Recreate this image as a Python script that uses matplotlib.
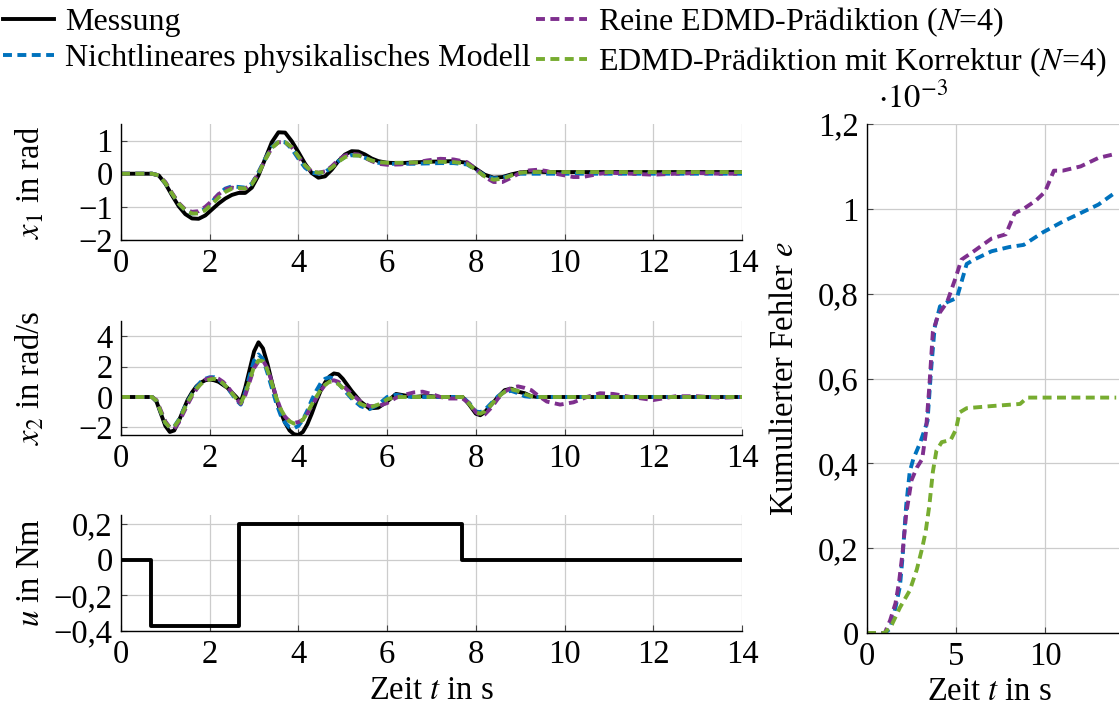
import matplotlib
matplotlib.use("Agg")
import matplotlib.pyplot as plt
from matplotlib.ticker import FuncFormatter

# --- data ---
t1 = [0, 0.7, 0.85, 1.0, 1.15, 1.3, 1.45, 1.6, 1.75, 1.9,
      2.05, 2.2, 2.35, 2.5, 2.65, 2.8, 2.95, 3.1, 3.25, 3.4,
      3.55, 3.7, 3.85, 4.0, 4.15, 4.3, 4.45, 4.6, 4.75, 4.9,
      5.05, 5.2, 5.35, 5.5, 5.65, 5.8, 6.0, 6.3, 6.6, 6.9,
      7.2, 7.5, 7.8, 8.0, 8.2, 8.4, 8.6, 8.8, 9.0, 9.2,
      9.4, 9.6, 9.8, 10.0, 10.2, 10.4, 10.6, 10.8, 11.0, 11.5,
      12.0, 12.5, 13.0, 13.5, 14.0]

x1_mess = [0, 0, -0.05, -0.3, -0.65, -0.98, -1.22, -1.35, -1.36, -1.26,
           -1.08, -0.9, -0.75, -0.64, -0.58, -0.58, -0.42, -0.05, 0.45, 0.95,
           1.25, 1.24, 0.98, 0.65, 0.3, 0.02, -0.12, -0.08, 0.12, 0.38,
           0.58, 0.68, 0.67, 0.58, 0.46, 0.38, 0.33, 0.32, 0.34, 0.36,
           0.37, 0.38, 0.33, 0.15, -0.03, -0.12, -0.1, -0.02, 0.04, 0.06,
           0.06, 0.05, 0.05, 0.05, 0.05, 0.05, 0.05, 0.05, 0.05, 0.05,
           0.05, 0.05, 0.05, 0.05, 0.05]
x1_phys = [0, 0, -0.05, -0.28, -0.6, -0.9, -1.1, -1.2, -1.18, -1.05,
           -0.85, -0.62, -0.45, -0.38, -0.4, -0.42, -0.3, 0.05, 0.45, 0.8,
           0.97, 0.95, 0.75, 0.45, 0.18, 0.03, 0.0, 0.05, 0.2, 0.38,
           0.5, 0.56, 0.55, 0.48, 0.4, 0.33, 0.3, 0.3, 0.3, 0.31,
           0.32, 0.32, 0.28, 0.12, -0.05, -0.14, -0.12, -0.05, 0.0, 0.0,
           0, 0, 0, 0, 0, 0, 0, 0, 0, 0,
           0, 0, 0, 0, 0]
x1_edmd = [0, 0, -0.05, -0.25, -0.58, -0.88, -1.08, -1.15, -1.13, -1.0,
           -0.82, -0.62, -0.47, -0.42, -0.45, -0.45, -0.3, 0.02, 0.42, 0.78,
           0.95, 0.95, 0.8, 0.52, 0.25, 0.07, 0.03, 0.07, 0.22, 0.42,
           0.55, 0.6, 0.58, 0.48, 0.38, 0.3, 0.27, 0.28, 0.33, 0.4,
           0.45, 0.43, 0.35, 0.15, -0.1, -0.25, -0.25, -0.12, 0.03, 0.1,
           0.12, 0.08, 0.0, -0.05, -0.1, -0.1, -0.05, 0.0, 0.03, 0.0,
           -0.03, 0.0, 0.02, 0.0, 0.0]
x1_korr = [0, 0, -0.05, -0.28, -0.6, -0.9, -1.1, -1.2, -1.2, -1.1,
           -0.92, -0.72, -0.55, -0.45, -0.43, -0.45, -0.32, 0.0, 0.42, 0.78,
           0.95, 0.95, 0.8, 0.52, 0.25, 0.07, 0.03, 0.05, 0.18, 0.36,
           0.5, 0.55, 0.55, 0.48, 0.4, 0.35, 0.33, 0.33, 0.34, 0.35,
           0.36, 0.35, 0.3, 0.12, -0.08, -0.18, -0.15, -0.05, 0.03, 0.05,
           0.05, 0.05, 0.05, 0.05, 0.05, 0.05, 0.05, 0.05, 0.05, 0.05,
           0.05, 0.05, 0.05, 0.05, 0.05]

t2 = [0, 0.7, 0.8, 0.9, 1.0, 1.1, 1.2, 1.3, 1.4, 1.5,
      1.6, 1.7, 1.8, 1.9, 2.0, 2.1, 2.2, 2.3, 2.4, 2.5,
      2.6, 2.7, 2.8, 2.9, 3.0, 3.1, 3.2, 3.3, 3.4, 3.5,
      3.6, 3.7, 3.8, 3.9, 4.0, 4.1, 4.2, 4.3, 4.4, 4.5,
      4.6, 4.7, 4.8, 4.9, 5.0, 5.2, 5.4, 5.6, 5.8, 6.0,
      6.2, 6.4, 6.6, 6.8, 7.0, 7.2, 7.4, 7.7, 7.85, 8.0,
      8.1, 8.2, 8.35, 8.5, 8.65, 8.8, 8.95, 9.1, 9.25, 9.4,
      9.6, 9.9, 10.2, 10.5, 10.8, 11.1, 11.5, 12.0, 12.5, 13.0,
      13.5, 14.0]

x2_mess = [0, 0, -0.3, -1.1, -1.9, -2.3, -2.2, -1.6, -0.9, -0.2,
           0.3, 0.7, 0.95, 1.1, 1.15, 1.1, 1.0, 0.8, 0.6, 0.3,
           0.0, -0.35, 0.6, 1.8, 3.0, 3.6, 3.2, 2.2, 1.0, -0.1,
           -1.0, -1.7, -2.2, -2.45, -2.5, -2.3, -1.8, -1.1, -0.3, 0.4,
           0.95, 1.35, 1.55, 1.5, 1.2, 0.4, -0.3, -0.75, -0.7, -0.3,
           0.2, 0.1, 0.0, 0.05, 0.05, 0.0, 0.0, 0.0, -0.5, -1.1,
           -1.2, -1.0, -0.5, 0.0, 0.45, 0.55, 0.35, 0.25, 0.05, 0.0,
           0, 0, 0, 0, 0, 0, 0, 0, 0, 0,
           0, 0]
x2_phys = [0, 0, -0.25, -1.0, -1.7, -2.0, -1.95, -1.5, -0.9, -0.3,
           0.2, 0.65, 1.0, 1.2, 1.3, 1.3, 1.15, 0.9, 0.6, 0.2,
           -0.2, -0.5, 0.3, 1.4, 2.4, 2.8, 2.5, 1.6, 0.6, -0.4,
           -1.2, -1.7, -2.0, -2.05, -1.9, -1.5, -0.9, -0.2, 0.4, 0.9,
           1.2, 1.3, 1.2, 0.9, 0.55, -0.1, -0.6, -0.8, -0.5, 0.0,
           0.15, 0.05, 0.0, 0.0, 0.0, 0.0, 0.0, 0.0, -0.4, -0.95,
           -1.0, -0.85, -0.4, 0.05, 0.35, 0.4, 0.25, 0.05, 0.0, 0.0,
           0, 0, 0, 0, 0, 0, 0, 0, 0, 0,
           0, 0]
x2_edmd = [0, 0, -0.2, -0.9, -1.6, -2.0, -2.1, -1.7, -1.1, -0.5,
           0.05, 0.5, 0.9, 1.15, 1.25, 1.3, 1.2, 1.0, 0.7, 0.3,
           -0.1, -0.45, 0.1, 1.0, 1.9, 2.35, 2.4, 1.9, 1.0, 0.0,
           -0.8, -1.3, -1.6, -1.7, -1.65, -1.5, -1.1, -0.6, -0.1, 0.4,
           0.8, 1.05, 1.1, 1.0, 0.75, 0.2, -0.3, -0.6, -0.6, -0.4,
           -0.05, 0.15, 0.3, 0.35, 0.2, 0.0, -0.1, -0.1, -0.4, -1.0,
           -1.2, -1.15, -0.7, -0.1, 0.35, 0.6, 0.7, 0.6, 0.45, 0.1,
           -0.3, -0.5, -0.35, 0.0, 0.25, 0.2, 0.0, -0.2, 0.05, 0.05,
           -0.05, 0.0]
x2_korr = [0, 0, -0.25, -1.0, -1.7, -2.0, -1.95, -1.55, -0.95, -0.35,
           0.15, 0.55, 0.85, 1.05, 1.15, 1.2, 1.1, 0.9, 0.6, 0.25,
           -0.1, -0.4, 0.2, 1.1, 2.0, 2.4, 2.35, 1.8, 0.9, -0.05,
           -0.8, -1.3, -1.6, -1.75, -1.7, -1.5, -1.05, -0.5, 0.0, 0.45,
           0.8, 1.0, 1.0, 0.85, 0.6, 0.0, -0.45, -0.7, -0.5, -0.15,
           0.0, 0.0, 0.0, 0.0, 0.0, 0.0, 0.0, 0.0, -0.45, -1.0,
           -1.1, -0.95, -0.5, 0.0, 0.35, 0.5, 0.4, 0.2, 0.05, 0.0,
           0, 0, 0, 0, 0, 0, 0, 0, 0, 0,
           0, 0]

t_u = [0, 0.68, 2.66, 7.69, 14]
u_val = [0, -0.37, 0.2, 0, 0]

# cumulative error, in units of 1e-3
t_e_phys = [0, 1.0, 1.3, 1.6, 1.85, 2.0, 2.2, 2.4, 2.6, 3.0, 3.4, 3.6, 3.8,
            4.1, 4.5, 5.05, 5.6, 6.0, 7.0, 8.0, 8.8, 9.9, 11.0, 12.0, 13.0, 14.0]
e_phys = [0, 0, 0.01, 0.06, 0.11, 0.18, 0.30, 0.38, 0.41, 0.45, 0.50, 0.62, 0.72,
          0.77, 0.78, 0.79, 0.87, 0.88, 0.9, 0.91, 0.915, 0.945, 0.97, 0.99, 1.01, 1.04]
t_e_edmd = [0, 1.0, 1.3, 1.6, 1.8, 2.0, 2.2, 2.5, 2.8, 3.1, 3.3, 3.5, 3.7, 4.0,
            4.5, 5.0, 5.3, 6.0, 7.0, 7.8, 8.3, 8.8, 9.5, 10.0, 10.5, 11.0, 12.0,
            13.0, 14.0]
e_edmd = [0, 0, 0.03, 0.07, 0.12, 0.19, 0.28, 0.36, 0.39, 0.41, 0.47, 0.58, 0.71,
          0.75, 0.78, 0.84, 0.88, 0.9, 0.93, 0.94, 0.99, 1.0, 1.02, 1.04, 1.09,
          1.09, 1.1, 1.12, 1.13]
t_e_korr = [0, 1.0, 1.4, 1.85, 2.4, 2.8, 3.1, 3.3, 3.5, 3.7, 3.9, 4.2, 4.7, 5.0,
            5.2, 5.6, 7.0, 8.6, 9.0, 10.0, 12.0, 14.0]
e_korr = [0, 0, 0.02, 0.06, 0.1, 0.15, 0.2, 0.24, 0.3, 0.38, 0.43, 0.45, 0.455,
          0.48, 0.52, 0.53, 0.535, 0.54, 0.555, 0.555, 0.555, 0.555]

LABELS = ["Messung", "Nichtlineares physikalisches Modell",
          "Reine EDMD-Prädiktion ($N$=4)", "EDMD-Prädiktion mit Korrektur ($N$=4)"]
C_BLUE = "#0072BD"
C_PURPLE = "#7E2F8E"
C_GREEN = "#77AC30"

plt.rcParams["font.family"] = ["Liberation Serif", "DejaVu Serif"]
plt.rcParams["mathtext.fontset"] = "stix"
plt.rcParams["font.size"] = 23.5
plt.rcParams["axes.unicode_minus"] = True

LW = 2.8
DASH = (2.3, 1.4)


def comma(v, pos):
    s = "%g" % v
    return s.replace(".", ",").replace("-", "\u2212")


def style(ax):
    ax.spines["top"].set_visible(False)
    ax.spines["right"].set_visible(False)
    ax.spines["left"].set_linewidth(1.0)
    ax.spines["bottom"].set_linewidth(1.0)
    ax.grid(True, color="#cccccc", linewidth=0.9)
    ax.set_axisbelow(True)
    ax.tick_params(direction="in", length=4, width=0.8, color="#444444", pad=6)
    ax.yaxis.set_major_formatter(FuncFormatter(comma))


fig = plt.figure(figsize=(11.19, 7.13), dpi=100)
W, H = 1119.0, 713.0


def add_ax(left, top, right, bottom):
    return fig.add_axes([left / W, (H - bottom) / H, (right - left) / W, (bottom - top) / H])


ax1 = add_ax(121, 124, 742, 240)
ax2 = add_ax(121, 321, 742, 435)
ax3 = add_ax(121, 515, 742, 631)
ax4 = add_ax(867, 124, 1134, 633)

# x1
ax1.plot(t1, x1_mess, color="black", lw=LW, label=LABELS[0])
ax1.plot(t1, x1_phys, color=C_BLUE, lw=LW, dashes=DASH, label=LABELS[1])
ax1.plot(t1, x1_edmd, color=C_PURPLE, lw=LW, dashes=DASH, label=LABELS[2])
ax1.plot(t1, x1_korr, color=C_GREEN, lw=LW, dashes=DASH, label=LABELS[3])
ax1.set_ylim(-2, 1.5)
ax1.set_yticks([-2, -1, 0, 1])
ax1.set_ylabel("$x_1$ in rad")

# x2
ax2.plot(t2, x2_mess, color="black", lw=LW)
ax2.plot(t2, x2_phys, color=C_BLUE, lw=LW, dashes=DASH)
ax2.plot(t2, x2_edmd, color=C_PURPLE, lw=LW, dashes=DASH)
ax2.plot(t2, x2_korr, color=C_GREEN, lw=LW, dashes=DASH)
ax2.set_ylim(-2.5, 5)
ax2.set_yticks([-2, 0, 2, 4])
ax2.set_ylabel("$x_2$ in rad/s")

# u
ax3.plot(t_u, u_val, color="black", lw=LW, drawstyle="steps-post")
ax3.set_ylim(-0.4, 0.25)
ax3.set_yticks([-0.4, -0.2, 0, 0.2])
ax3.set_ylabel("$u$ in Nm")
ax3.set_xlabel("Zeit $t$ in s")

for ax in [ax1, ax2, ax3]:
    ax.set_xlim(0, 14)
    ax.set_xticks(range(0, 15, 2))
    style(ax)
    ax.yaxis.set_label_coords(-0.12, 0.5)
ax3.xaxis.set_label_coords(0.5, -0.38)

# cumulative error
ax4.plot(t_e_phys, e_phys, color=C_BLUE, lw=LW, dashes=DASH)
ax4.plot(t_e_edmd, e_edmd, color=C_PURPLE, lw=LW, dashes=DASH)
ax4.plot(t_e_korr, e_korr, color=C_GREEN, lw=LW, dashes=DASH)
ax4.set_xlim(0, 15)
ax4.set_ylim(0, 1.2)
ax4.set_xticks([0, 5, 10])
ax4.set_yticks([0, 0.2, 0.4, 0.6, 0.8, 1.0, 1.2])
style(ax4)
ax4.set_ylabel("Kumulierter Fehler $e$")
ax4.set_xlabel("Zeit $t$ in s")
ax4.yaxis.set_label_coords(-0.25, 0.5)
ax4.xaxis.set_label_coords(0.46, -0.086)
ax4.text(0.04, 1.051, r"$\cdot 10^{-3}$", transform=ax4.transAxes, ha="left", va="center")

handles, labels = ax1.get_legend_handles_labels()
fig.legend(handles, labels, ncol=2, loc="upper left", bbox_to_anchor=(0.0, 0.997),
           frameon=False, fontsize=23, handlelength=1.6, handletextpad=0.35,
           columnspacing=0.15, labelspacing=0.2, borderpad=0.1, borderaxespad=0.0)

fig.savefig("out.png", dpi=100)
